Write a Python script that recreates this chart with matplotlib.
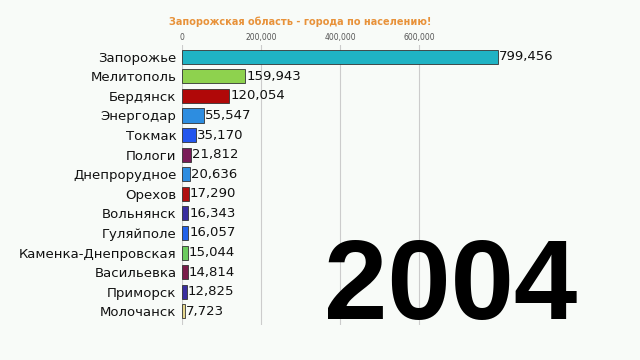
import matplotlib.pyplot as plt
import matplotlib.ticker as mticker

cities = ['Запорожье', 'Мелитополь', 'Бердянск', 'Энергодар', 'Токмак', 'Пологи',
          'Днепрорудное', 'Орехов', 'Вольнянск', 'Гуляйполе', 'Каменка-Днепровская',
          'Васильевка', 'Приморск', 'Молочанск']
population = [799456, 159943, 120054, 55547, 35170, 21812, 20636, 17290, 16343,
              16057, 15044, 14814, 12825, 7723]
colors = ['#1fb3c4', '#8ed24e', '#b00808', '#2d8de0', '#2356ee', '#7a1c58',
          '#2d8de0', '#b01010', '#3a2ea0', '#2262ea', '#6ccb5f', '#7a1c4a',
          '#3a2ea0', '#e6d88e']
year = '2004'
title = 'Запорожская область - города по населению!'

bg = '#f8fbf8'
fig = plt.figure(figsize=(6.4, 3.6), dpi=100, facecolor=bg)
ax = fig.add_axes([182 / 640, 1 - 325 / 360, 318 / 640, 280 / 360], facecolor=bg)

ypos = list(range(len(cities)))
ax.barh(ypos, population, height=0.72, color=colors, edgecolor='#333333', linewidth=0.6, zorder=3)
for y, v in zip(ypos, population):
    ax.text(v + 2500, y, f'{v:,}', va='center', ha='left', fontsize=9.5, color='#111111', zorder=4)

ax.set_yticks(ypos)
ax.set_yticklabels(cities, fontsize=9.5, color='#111111')
ax.set_ylim(13.7, -0.6)
ax.set_xlim(0, 805000)
ax.set_xticks([0, 200000, 400000, 600000])
ax.xaxis.set_major_formatter(mticker.FuncFormatter(lambda v, p: f'{int(v):,}'))
ax.xaxis.tick_top()
ax.tick_params(axis='x', labelsize=5.5, colors='#555555', length=0, pad=2)
ax.tick_params(axis='y', length=0, pad=4)
ax.grid(axis='x', color='#cccccc', linewidth=0.8, zorder=0)
for s in ax.spines.values():
    s.set_visible(False)

fig.text(300 / 640, 1 - 22 / 360, title, ha='center', va='center', fontsize=7,
         fontweight='bold', color='#e8923a')
fig.text(577 / 640, 1 - 319 / 360, year, ha='right', va='baseline', fontsize=82,
         fontweight='bold', family='Liberation Sans', color='#000000')

fig.savefig('out.png', dpi=100, facecolor=bg)
